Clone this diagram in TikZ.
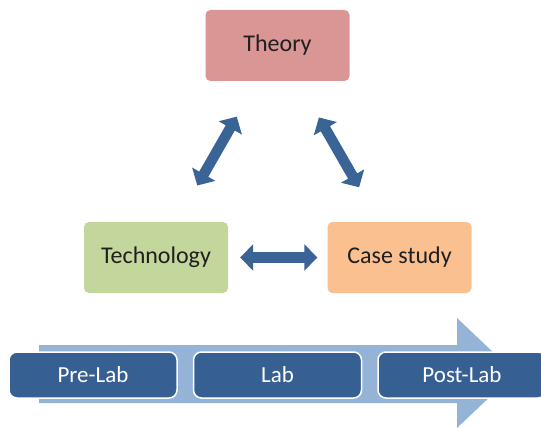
\documentclass[tikz,border=0pt]{standalone}
\usepackage{fontspec}
\setmainfont{Carlito}
\usetikzlibrary{arrows.meta,positioning}

\definecolor{theorypink}{HTML}{D99694}
\definecolor{techgreen}{HTML}{C3D69B}
\definecolor{caseorange}{HTML}{FAC090}
\definecolor{linkblue}{HTML}{3A6496}
\definecolor{labblue}{HTML}{376092}
\definecolor{stripblue}{HTML}{95B3D7}

\begin{document}
\begin{tikzpicture}[x=1pt,y=-1pt,>={Triangle[width=26pt,length=13pt]},font=\fontsize{23}{27}\selectfont]

    \tikzstyle{topic}=[rounded corners=5pt, minimum width=144pt, minimum height=71pt, text=black!88, font=\fontsize{24}{28}\selectfont]
    \tikzstyle{phase}=[rounded corners=8pt, draw=white, line width=1.5pt, fill=labblue, minimum width=168pt, minimum height=46pt, text=white]
    \tikzstyle{link}=[<->, draw=linkblue, line width=10.5pt]

    \useasboundingbox (0,0) rectangle (541,428);

    \node[topic, fill=theorypink] (theory) at (277.5,45.5)  {Theory};
    \node[topic, fill=techgreen]  (tech)   at (156,257.5)   {Technology};
    \node[topic, fill=caseorange] (case)   at (399.5,257.5) {Case study};

    \draw[link, shorten <=83pt, shorten >=82pt] (tech.center) -- (theory.center);
    \draw[link, shorten <=83pt, shorten >=81pt] (theory.center) -- (case.center);
    \draw[link, shorten <=12pt, shorten >=10pt] (tech.east) -- (case.west);

    % timeline arrow behind the phases
    \fill[stripblue] (39,345) -- (457,345) -- (457,318) -- (515,373)
        -- (457,428) -- (457,403) -- (39,403) -- cycle;

    \node[phase] (prelab)  at (93,375)          {Pre-Lab};
    \node[phase] (lab)     [right=15pt of prelab] {Lab};
    \node[phase] (postlab) [right=15pt of lab]    {Post-Lab};

\end{tikzpicture}
\end{document}
